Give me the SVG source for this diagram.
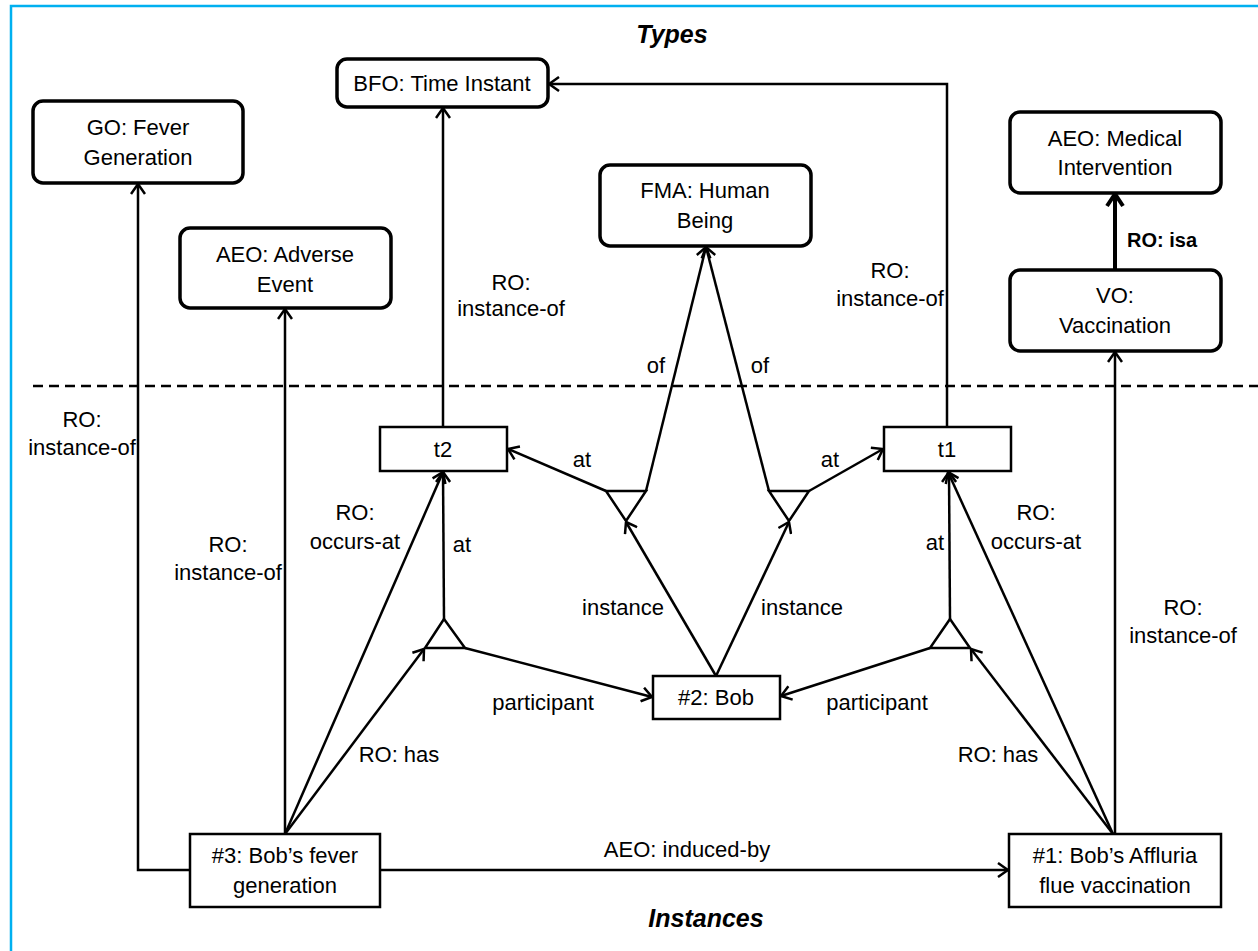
<svg xmlns="http://www.w3.org/2000/svg" width="1258" height="951" viewBox="0 0 1258 951">
<style>
.t{font-family:"Liberation Sans",Arial,sans-serif;font-size:22px;fill:#000;text-anchor:middle}
.title{font-family:"Liberation Sans",Arial,sans-serif;font-size:25px;font-weight:bold;font-style:italic;fill:#000;text-anchor:middle}
.isa{font-family:"Liberation Sans",Arial,sans-serif;font-size:20px;font-weight:bold;fill:#000}
.rb{fill:#fff;stroke:#000;stroke-width:3.5}
.sb{fill:#fff;stroke:#000;stroke-width:2.5}
.c{fill:none;stroke:#000;stroke-width:2.5;marker-end:url(#a)}
.tri{fill:#fff;stroke:#000;stroke-width:2.5;stroke-linejoin:miter}
</style>
<defs>
<marker id="a" markerUnits="userSpaceOnUse" viewBox="0 0 12 16" refX="11" refY="8" markerWidth="12" markerHeight="16" orient="auto"><path d="M1,1 L11,8 L1,15" fill="none" stroke="#000" stroke-width="2.5"/></marker>
<marker id="ab" markerUnits="userSpaceOnUse" viewBox="0 0 16 20" refX="14" refY="10" markerWidth="16" markerHeight="20" orient="auto"><path d="M2,2 L14,10 L2,18" fill="none" stroke="#000" stroke-width="4"/></marker>
</defs>
<rect x="0" y="0" width="1258" height="951" fill="#fff"/>
<rect x="11" y="6" width="1260" height="960" fill="none" stroke="#00b0f0" stroke-width="2.5"/>
<text class="title" x="672" y="43">Types</text>
<text class="title" x="706" y="927">Instances</text>
<path d="M33,386 H1258" stroke="#000" stroke-width="2.5" stroke-dasharray="10 6" fill="none"/>

<g id="connectors">
<path class="c" d="M190,870 H138 V184"/>
<path class="c" d="M285,834 V309"/>
<path class="c" d="M285,834 L443,472"/>
<path class="c" d="M285,834 L424,649"/>
<path class="c" d="M444,619 L443,472"/>
<path class="c" d="M465,648 L652,697"/>
<path class="c" d="M443,427 V108"/>
<path class="c" d="M947,427 V84 H549"/>
<path class="c" d="M606,491 L508,449"/>
<path class="c" d="M646,491 L706,247"/>
<path class="c" d="M769,491 L706,247"/>
<path class="c" d="M809,491 L883,449"/>
<path class="c" d="M716,676 L626,522"/>
<path class="c" d="M716,676 L789,522"/>
<path class="c" d="M930,648 L781,696"/>
<path class="c" d="M1113,834 L971,649"/>
<path class="c" d="M1113,834 L948,472"/>
<path class="c" d="M950,619 L949,472"/>
<path class="c" d="M1115,834 V352"/>
<path d="M1115,270 V194" fill="none" stroke="#000" stroke-width="4" marker-end="url(#ab)"/>
<path class="c" d="M380,870 H1008"/>
</g>

<g id="junctions">
<polygon class="tri" points="444,619 465,648 425,648"/>
<polygon class="tri" points="950,619 970,648 930,648"/>
<polygon class="tri" points="606,491 646,491 626,521"/>
<polygon class="tri" points="769,491 809,491 789,521"/>
</g>

<g id="bfo-time-instant"><rect class="rb" x="337" y="59" width="211" height="48" rx="10"/><text class="t" x="442" y="91">BFO: Time Instant</text></g>
<g id="go-fever-generation"><rect class="rb" x="33" y="101" width="210" height="82" rx="10"/><text class="t" x="138" y="135">GO: Fever</text><text class="t" x="138" y="165">Generation</text></g>
<g id="aeo-adverse-event"><rect class="rb" x="180" y="228" width="211" height="80" rx="10"/><text class="t" x="285" y="262">AEO: Adverse</text><text class="t" x="285" y="292">Event</text></g>
<g id="fma-human-being"><rect class="rb" x="600" y="165" width="211" height="81" rx="10"/><text class="t" x="705" y="198">FMA: Human</text><text class="t" x="705" y="228">Being</text></g>
<g id="aeo-medical-intervention"><rect class="rb" x="1010" y="112" width="211" height="81" rx="10"/><text class="t" x="1115" y="146">AEO: Medical</text><text class="t" x="1115" y="175">Intervention</text></g>
<g id="vo-vaccination"><rect class="rb" x="1010" y="270" width="211" height="81" rx="10"/><text class="t" x="1115" y="303">VO:</text><text class="t" x="1115" y="333">Vaccination</text></g>
<g id="t2"><rect class="sb" x="380" y="427" width="127" height="44"/><text class="t" x="443" y="457">t2</text></g>
<g id="t1"><rect class="sb" x="884" y="427" width="127" height="44"/><text class="t" x="947" y="457">t1</text></g>
<g id="bob"><rect class="sb" x="653" y="676" width="127" height="43"/><text class="t" x="716" y="705">#2: Bob</text></g>
<g id="bob-fever-generation"><rect class="sb" x="190" y="834" width="190" height="73"/><text class="t" x="285" y="863">#3: Bob’s fever</text><text class="t" x="285" y="893">generation</text></g>
<g id="bob-affluria-vaccination"><rect class="sb" x="1009" y="834" width="212" height="73"/><text class="t" x="1115" y="863">#1: Bob’s Affluria</text><text class="t" x="1115" y="893">flue vaccination</text></g>

<g id="labels">
<text class="isa" x="1127" y="247">RO: isa</text>
<text class="t" x="511" y="290">RO:</text><text class="t" x="511" y="316">instance-of</text>
<text class="t" x="890" y="278">RO:</text><text class="t" x="890" y="306">instance-of</text>
<text class="t" x="82" y="427">RO:</text><text class="t" x="82" y="455">instance-of</text>
<text class="t" x="228" y="552">RO:</text><text class="t" x="228" y="580">instance-of</text>
<text class="t" x="355" y="520">RO:</text><text class="t" x="355" y="549">occurs-at</text>
<text class="t" x="1036" y="520">RO:</text><text class="t" x="1036" y="549">occurs-at</text>
<text class="t" x="1183" y="615">RO:</text><text class="t" x="1183" y="643">instance-of</text>
<text class="t" x="656" y="373">of</text>
<text class="t" x="760" y="373">of</text>
<text class="t" x="582" y="467">at</text>
<text class="t" x="830" y="467">at</text>
<text class="t" x="462" y="552">at</text>
<text class="t" x="935" y="550">at</text>
<text class="t" x="623" y="615">instance</text>
<text class="t" x="802" y="615">instance</text>
<text class="t" x="543" y="710">participant</text>
<text class="t" x="877" y="710">participant</text>
<text class="t" x="399" y="762">RO: has</text>
<text class="t" x="998" y="762">RO: has</text>
<text class="t" x="687" y="857">AEO: induced-by</text>
</g>
</svg>
